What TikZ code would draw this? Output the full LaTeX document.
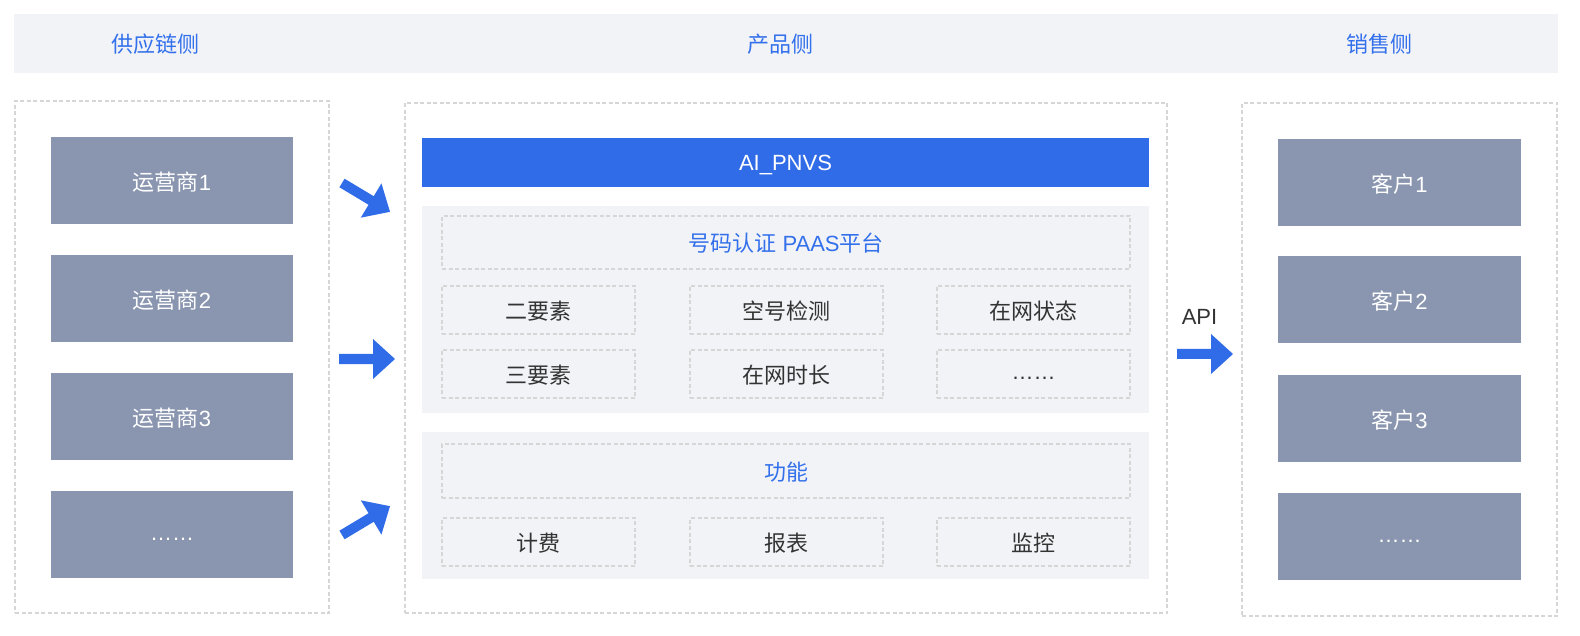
\documentclass[tikz,border=0pt]{standalone}
\usepackage{fontspec}
\setmainfont{Liberation Sans}
\newfontfamily\cjk{Noto Sans CJK SC}
\definecolor{headbg}{HTML}{F2F3F7}
\definecolor{brandblue}{HTML}{316CE8}
\definecolor{titleblue}{HTML}{3370EB}
\definecolor{boxgray}{HTML}{8A96B0}
\definecolor{dashgray}{HTML}{D6D6D6}
\definecolor{textdark}{HTML}{333333}
\tikzset{
  basefont/.style={font=\fontsize{22}{26}\selectfont, text height=20pt, text depth=0pt, inner sep=0pt},
  dotsfont/.style={text height=12pt, text depth=0pt},
  panel/.style={draw=dashgray, dash pattern=on 4pt off 2.5pt, line width=1.2pt, inner sep=0pt},
  bgblock/.style={fill=headbg, draw=none, inner sep=0pt},
  graybox/.style={basefont, fill=boxgray, text=white, minimum width=242pt, minimum height=87pt},
  cell/.style={basefont, draw=dashgray, dash pattern=on 4pt off 2.5pt, line width=1.2pt, text=textdark, minimum width=193pt, minimum height=48pt},
  widecell/.style={cell, minimum width=688pt, minimum height=53pt, text=titleblue},
  coltitle/.style={basefont, text=titleblue},
  fatarrow/.pic={\fill[brandblue] (0,-5) -- (34,-5) -- (34,-20) -- (56,0) -- (34,20) -- (34,5) -- (0,5) -- cycle;}
}
\begin{document}
\begin{tikzpicture}[x=1pt,y=-1pt]
\useasboundingbox (0,0) rectangle (1580,636);
% header band
\node[bgblock, minimum width=1544pt, minimum height=59pt] (header) at (786,43.5) {};
\node[coltitle] (t1) at (155,42.5) {\cjk 供应链侧};
\node[coltitle] (t2) at (780.5,42.5) {\cjk 产品侧};
\node[coltitle] (t3) at (1379,42.5) {\cjk 销售侧};
% panels
\node[panel, minimum width=314pt, minimum height=512pt] (lpanel) at (172,357) {};
\node[panel, minimum width=762pt, minimum height=510pt] (mpanel) at (786,358) {};
\node[panel, minimum width=315pt, minimum height=513pt] (rpanel) at (1399.5,359.5) {};
% supplier boxes
\node[graybox] (s1) at (172,180.5) {{\cjk 运营商}1};
\node[graybox] (s2) at (172,298.5) {{\cjk 运营商}2};
\node[graybox] (s3) at (172,416.5) {{\cjk 运营商}3};
\node[graybox, dotsfont] (s4) at (172,534.5) {……};
% customer boxes
\node[graybox, minimum width=243pt] (c1) at (1399.5,182.5) {{\cjk 客户}1};
\node[graybox, minimum width=243pt] (c2) at (1399.5,300) {{\cjk 客户}2};
\node[graybox, minimum width=243pt] (c3) at (1399.5,418) {{\cjk 客户}3};
\node[graybox, minimum width=243pt, dotsfont] (c4) at (1399.5,536) {……};
% product side
\node[basefont, text height=17pt, fill=brandblue, text=white, minimum width=727pt, minimum height=49pt] (bar) at (785.5,162.5) {AI\_PNVS};
\node[bgblock, minimum width=727pt, minimum height=207pt] (sec1) at (785.5,309.5) {};
\node[bgblock, minimum width=727pt, minimum height=147pt] (sec2) at (785.5,505.5) {};
\node[widecell, text height=18pt] (paas) at (786,242.5) {{\cjk 号码认证} PAAS{\cjk 平台}};
\node[cell, text height=19pt] (a1) at (538.5,310) {\cjk 二要素};
\node[cell, text height=19pt] (a2) at (786.5,310) {\cjk 空号检测};
\node[cell, text height=19pt] (a3) at (1033.5,310) {\cjk 在网状态};
\node[cell, text height=19pt] (b1) at (538.5,374) {\cjk 三要素};
\node[cell, text height=19pt] (b2) at (786.5,374) {\cjk 在网时长};
\node[cell, dotsfont] (b3) at (1033.5,374) {……};
\node[widecell, text height=18pt, minimum height=54pt] (func) at (786,471) {\cjk 功能};
\node[cell, text height=19pt] (f1) at (538.5,542) {\cjk 计费};
\node[cell, text height=19pt] (f2) at (786.5,542) {\cjk 报表};
\node[cell, text height=19pt] (f3) at (1033.5,542) {\cjk 监控};
% arrows
\coordinate (ar1) at (342,183);
\coordinate (ar2) at (339,359);
\coordinate (ar3) at (342,535);
\coordinate (ar4) at (1177,354);
\pic[rotate=-31] at (ar1) {fatarrow};
\pic at (ar2) {fatarrow};
\pic[rotate=31] at (ar3) {fatarrow};
\pic at (ar4) {fatarrow};
\node[basefont, text height=17pt, text=textdark] (api) at (1199.5,316.5) {API};
\end{tikzpicture}
\end{document}
